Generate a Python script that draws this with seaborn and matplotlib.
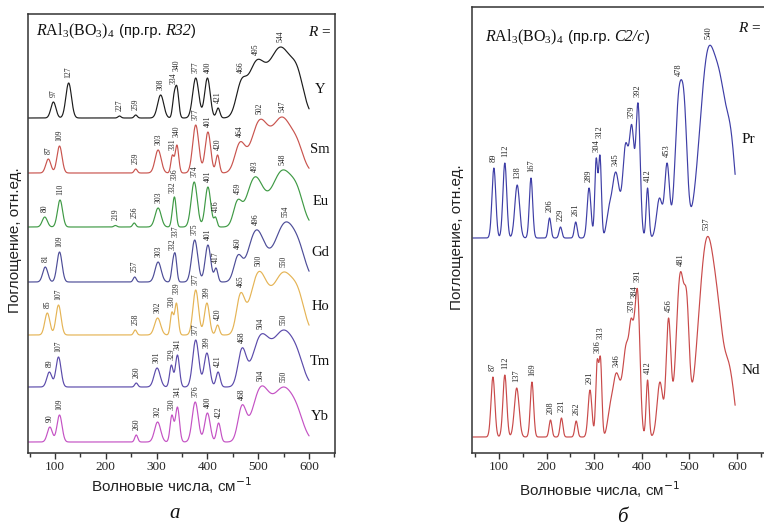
import numpy as np
import matplotlib
matplotlib.use("Agg")
import matplotlib.pyplot as plt
import seaborn as sns
from matplotlib.ticker import MultipleLocator
from matplotlib.offsetbox import TextArea, HPacker, AnchoredOffsetbox

sns.set_theme(style="white")
plt.rcParams["font.family"] = ["Liberation Serif", "DejaVu Serif"]
plt.rcParams["mathtext.fontset"] = "custom"
plt.rcParams["mathtext.rm"] = "Liberation Serif"
plt.rcParams["mathtext.it"] = "Liberation Serif:italic"

# ---------------- R32 borates (panel a) ----------------
R32_NAMES = ["Y", "Sm", "Eu", "Gd", "Ho", "Tm", "Yb"]
R32_COLORS = ["#1c1c1c", "#c9544e", "#3f9a45", "#4d4d98", "#e5b455", "#5b4bab", "#c452c4"]
R32_OFFSETS = [335, 280, 226, 171, 118, 66, 11]

# labelled band maxima (cm^-1), apparent band heights and band half-widths
R32_PEAKS = {
    "Y":  [97, 127, 227, 259, 308, 334, 340, 377, 400, 421, 466, 495, 544],
    "Sm": [87, 109, 259, 303, 331, 340, 377, 401, 420, 464, 502, 547],
    "Eu": [80, 110, 219, 256, 303, 332, 336, 374, 401, 416, 459, 493, 548],
    "Gd": [81, 109, 257, 303, 332, 337, 375, 401, 417, 460, 496, 554],
    "Ho": [85, 107, 258, 302, 330, 339, 377, 399, 420, 465, 500, 550],
    "Tm": [89, 107, 260, 301, 329, 341, 377, 399, 421, 468, 504, 550],
    "Yb": [90, 109, 260, 302, 330, 341, 376, 400, 422, 468, 504, 550],
}
R32_HEIGHTS = {
    "Y":  [16, 35, 2, 3, 23, 24, 32, 40, 40, 10, 38, 57, 71],
    "Sm": [14, 27, 4, 23, 18, 28, 48, 41, 18, 31, 53, 56],
    "Eu": [10, 27, 1.5, 4, 19, 22, 29, 45, 40, 10, 27, 50, 57],
    "Gd": [15, 30, 5, 20, 22, 28, 42, 37, 14, 27, 52, 60],
    "Ho": [22, 30, 5, 17, 23, 32, 45, 32, 10, 42, 63, 63],
    "Tm": [15, 30, 4, 19, 22, 32, 47, 34, 15, 39, 52, 57],
    "Yb": [15, 27, 7, 20, 27, 35, 40, 29, 19, 37, 55, 55],
}
R32_WIDTHS = {
    "Y":  [5, 5.5, 3, 3, 6, 3, 3.5, 6, 5.5, 3.5, 10, 16, 24],
    "Sm": [5, 5, 3, 6, 3, 3.5, 6, 5.5, 3.5, 10, 16, 20],
    "Eu": [5, 5, 3, 3, 6, 3, 3, 6, 5.5, 3, 8, 16, 22],
    "Gd": [5, 5, 3, 6, 3, 3, 6, 5.5, 3.5, 8, 16, 22],
    "Ho": [5, 5, 3, 6, 3, 3.5, 5.5, 5, 3.5, 8, 16, 22],
    "Tm": [5, 5, 3, 6, 3.5, 4, 6, 5.5, 4, 8, 16, 22],
    "Yb": [5, 5, 3, 6, 3.5, 4, 6, 5.5, 4, 8, 16, 22],
}
# unlabelled shoulders: position, height, half-width
R32_SHOULDERS = {
    "Y":  [(578, 50, 12)],
    "Sm": [(578, 33, 12)],
    "Eu": [(578, 40, 12)],
    "Gd": [(582, 39, 12)],
    "Ho": [(580, 45, 12)],
    "Tm": [(578, 37, 12)],
    "Yb": [(578, 35, 12)],
}

# ---------------- C2/c borates (panel b) ----------------
C2C_NAMES = ["Pr", "Nd"]
C2C_COLORS = ["#3e3ea6", "#c94a4a"]
C2C_OFFSETS = [215, 16]
C2C_PEAKS = {
    "Pr": [89, 112, 138, 167, 206, 229, 261, 289, 304, 312, 345, 379, 392, 412, 453, 478, 540],
    "Nd": [87, 112, 137, 169, 208, 231, 262, 291, 306, 313, 346, 378, 384, 391, 412, 456, 481, 537],
}
C2C_HEIGHTS = {
    "Pr": [70, 75, 53, 60, 20, 11, 16, 50, 80, 83, 66, 113, 135, 50, 75, 150, 191],
    "Nd": [60, 62, 49, 55, 17, 19, 16, 47, 77, 80, 64, 119, 122, 147, 57, 119, 165, 200],
}
C2C_WIDTHS = {
    "Pr": [4, 4, 5, 3.5, 3, 3, 3, 4, 3, 3, 8, 5, 4.5, 3, 5, 8, 18],
    "Nd": [4, 4, 5, 3.5, 3, 3, 3, 4, 3, 3, 8, 4, 3.5, 5, 3, 5, 9, 18],
}
C2C_SHOULDERS = {
    "Pr": [(330, 30, 5), (366, 95, 6), (437, 40, 6), (490, 135, 6), (568, 155, 12),
           (588, 105, 10)],
    "Nd": [(332, 30, 5), (368, 95, 8), (438, 55, 6), (495, 140, 5), (565, 120, 12),
           (584, 72, 8), (594, 40, 6)],
}

TICKS = [100, 200, 300, 400, 500, 600]


def spectrum(v, peaks, heights, widths, shoulders):
    pos = np.array(list(peaks) + [s[0] for s in shoulders], float)
    hgt = np.array(list(heights) + [s[1] for s in shoulders], float)
    wid = np.array(list(widths) + [s[2] for s in shoulders], float)
    g = np.exp(-(pos[:, None] - pos[None, :]) ** 2 / (2 * wid[None, :] ** 2))
    amp = np.clip(np.linalg.solve(g, hgt), 0, None)
    return (amp[None, :] * np.exp(-(v[:, None] - pos[None, :]) ** 2
                                  / (2 * wid[None, :] ** 2))).sum(axis=1)


def peak_labels(ax, v, y, off, peaks, fontsize, gap):
    # one rotated label per band; neighbouring labels are stacked upward
    length = 0.5 * fontsize * 100 / 72  # pixel advance of one digit (= data units)
    prev_x, prev_top = None, -1e9
    for p in peaks:
        top = y[(v >= p - 2) & (v <= p + 2)].max()
        base = off + top + gap
        if prev_x is not None and p - prev_x < 12:
            base = max(base, prev_top + 1.5)
        ax.text(p, base, str(p), rotation=90, ha="center", va="bottom",
                fontsize=fontsize, color="#222222")
        prev_x, prev_top = p, base + length * len(str(p))


def frame(ax, xlim, ylim):
    ax.set_xlim(*xlim)
    ax.set_ylim(*ylim)
    ax.set_yticks([])
    ax.xaxis.set_major_locator(MultipleLocator(100))
    ax.xaxis.set_minor_locator(MultipleLocator(50))
    ax.set_xticks(TICKS)
    ax.tick_params(axis="x", which="major", direction="out", length=4, width=1,
                   bottom=True, labelsize=9.5, color="#333333", pad=2)
    ax.tick_params(axis="x", which="minor", direction="out", length=3, width=1,
                   bottom=True, color="#333333")
    for s in ax.spines.values():
        s.set_color("#333333")
        s.set_linewidth(1.1)
    ax.set_xlabel("")
    ax.set_ylabel("")


def title(fig, x, y, group):
    serif = dict(family="Liberation Serif", size=11.5, color="#111111")
    serif_it = dict(family="Liberation Serif", style="italic", size=11.5, color="#111111")
    sans = dict(family="Liberation Sans", size=10.5, color="#111111")
    parts = [TextArea(r"$R$Al$_3$(BO$_3$)$_4$", textprops=serif),
             TextArea(" (пр.гр. ", textprops=sans),
             TextArea(group, textprops=serif_it),
             TextArea(")", textprops=sans)]
    box = HPacker(children=parts, align="baseline", pad=0, sep=0)
    anch = AnchoredOffsetbox(loc="center left", child=box, pad=0, borderpad=0,
                             bbox_to_anchor=(x, y), bbox_transform=fig.transFigure,
                             frameon=False)
    fig.add_artist(anch)


W, H = 764, 526
fig = plt.figure(figsize=(W / 100, H / 100), dpi=100)
ax1 = fig.add_axes([28 / W, 1 - 453 / H, 307 / W, 439 / H])
ax2 = fig.add_axes([472 / W, 1 - 453 / H, 300 / W, 446 / H])

# panel a
v1 = np.arange(48, 600.01, 0.5)
for name, col, off in zip(R32_NAMES, R32_COLORS, R32_OFFSETS):
    y = spectrum(v1, R32_PEAKS[name], R32_HEIGHTS[name], R32_WIDTHS[name], R32_SHOULDERS[name])
    sns.lineplot(x=v1, y=off + y, ax=ax1, color=col, linewidth=0.85,
                 estimator=None, sort=False)
    peak_labels(ax1, v1, y, off, R32_PEAKS[name], 5.5, 5)
    ax1.text(622, off + y[-1] + 19, name, ha="center", va="center", fontsize=10.5,
             color="#111111")
frame(ax1, (47, 651), (0, 439))
ax1.text(620, 421, r"$R$ =", ha="center", va="center", fontsize=11, color="#111111")

# panel b
v2 = np.arange(45, 596.01, 0.5)
for name, col, off in zip(C2C_NAMES, C2C_COLORS, C2C_OFFSETS):
    y = spectrum(v2, C2C_PEAKS[name], C2C_HEIGHTS[name], C2C_WIDTHS[name], C2C_SHOULDERS[name])
    sns.lineplot(x=v2, y=off + y, ax=ax2, color=col, linewidth=0.85,
                 estimator=None, sort=False)
    peak_labels(ax2, v2, y, off, C2C_PEAKS[name], 6, 6)
    ax2.text(610, off + y[-1] + 35, name, ha="left", va="center", fontsize=11,
             color="#111111")
frame(ax2, (43, 673.5), (0, 446))

title(fig, 36 / W, 1 - 31 / H, "R32")
title(fig, 485 / W, 1 - 37 / H, "C2/c")
fig.text(750 / W, 1 - 28 / H, r"$R$ =", ha="center", va="center", fontsize=11, color="#111111")

# axis captions
ylab = dict(rotation=90, ha="center", va="center", fontsize=11, family="Liberation Sans",
            color="#222222")
fig.text(15 / W, 1 - 240 / H, "Поглощение, отн.ед.", **ylab)
fig.text(457 / W, 1 - 237 / H, "Поглощение, отн.ед.", **ylab)
xlab = dict(ha="center", va="center", fontsize=11, family="Liberation Sans", color="#222222",
            math_fontfamily="dejavusans")
fig.text(172 / W, 1 - 486 / H, r"Волновые числа, см$^{-1}$", **xlab)
fig.text(600 / W, 1 - 490 / H, r"Волновые числа, см$^{-1}$", **xlab)
fig.text(175 / W, 1 - 514 / H, "a", ha="center", va="center", fontsize=15,
         style="italic", color="#111111")
fig.text(622 / W, 1 - 517 / H, "б", ha="center", va="center", fontsize=15,
         style="italic", color="#111111")

fig.savefig("out.png", dpi=100, facecolor="white")
